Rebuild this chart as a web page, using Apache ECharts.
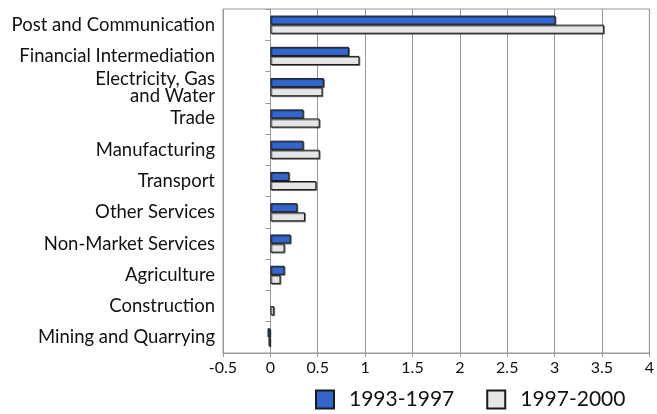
<!DOCTYPE html>
<html>
<head>
<meta charset="utf-8">
<script src="https://cdn.jsdelivr.net/npm/echarts@6/dist/echarts.min.js"></script>
<style>
  html, body { margin: 0; padding: 0; background: #fff; }
  #chart-container { width: 657px; height: 414px; }
</style>
</head>
<body>
<div id="chart-container"></div>
<script>
var sectors = [
  "Post and Communication",
  "Financial Intermediation",
  "Electricity, Gas\nand Water",
  "Trade",
  "Manufacturing",
  "Transport",
  "Other Services",
  "Non-Market Services",
  "Agriculture",
  "Construction",
  "Mining and Quarrying"
];
// growth contribution, 1993-1997 (no bar shown for Construction)
var period1 = [3.01, 0.83, 0.565, 0.35, 0.35, 0.20, 0.285, 0.215, 0.15, null, -0.03];
var period2 = [3.52, 0.94, 0.55, 0.52, 0.52, 0.485, 0.365, 0.15, 0.107, 0.04, -0.02];
var seriesNames = ["1993-1997", "1997-2000"];

var dom = document.getElementById("chart-container");
var myChart = echarts.init(dom, null, { renderer: "canvas" });

var barStyle = function (color) {
  return {
    color: color,
    borderColor: "#1a1a1a",
    borderWidth: 1,
    shadowColor: "rgba(0,0,0,0.45)",
    shadowOffsetX: 1,
    shadowOffsetY: 1,
    shadowBlur: 0
  };
};

var option = {
  animation: false,
  textStyle: { fontFamily: "Lato" },
  grid: {
    left: 223,
    right: 6,
    top: 9,
    bottom: 61,
    show: true,
    borderColor: "#999",
    borderWidth: 1
  },
  legend: {
    left: 315,
    top: 389,
    padding: 0,
    itemWidth: 18,
    itemHeight: 18,
    itemGap: 32,
    icon: "rect",
    textStyle: { fontSize: 21, color: "#111", fontFamily: "Lato", padding: [0, 0, 0, 10] },
    data: seriesNames
  },
  xAxis: {
    type: "value",
    min: -0.5,
    max: 4,
    interval: 0.5,
    axisLine: { show: true, onZero: false, lineStyle: { color: "#999" } },
    axisTick: { show: true, length: 4, lineStyle: { color: "#999" } },
    axisLabel: { fontSize: 16, color: "#111", margin: 7 },
    splitLine: { show: true, lineStyle: { color: "#999" } }
  },
  yAxis: [
    {
      type: "category",
      inverse: true,
      data: sectors,
      axisLine: { show: false, onZero: false },
      axisTick: { show: false },
      axisLabel: { fontSize: 18.5, color: "#111", margin: 8, lineHeight: 17 }
    },
    {
      type: "category",
      inverse: true,
      position: "left",
      data: sectors,
      axisLine: { show: true, onZero: true, lineStyle: { color: "#999" } },
      axisTick: { show: true, length: 5, lineStyle: { color: "#999" } },
      axisLabel: { show: false }
    }
  ],
  series: [
    {
      name: seriesNames[0],
      type: "bar",
      yAxisIndex: 0,
      barGap: "0%",
      barCategoryGap: "42%",
      itemStyle: barStyle("#3366cc"),
      data: period1
    },
    {
      name: seriesNames[1],
      type: "bar",
      yAxisIndex: 0,
      itemStyle: barStyle("#e6e6e6"),
      data: period2
    }
  ]
};

myChart.setOption(option);
window.addEventListener("resize", myChart.resize);
</script>
</body>
</html>
